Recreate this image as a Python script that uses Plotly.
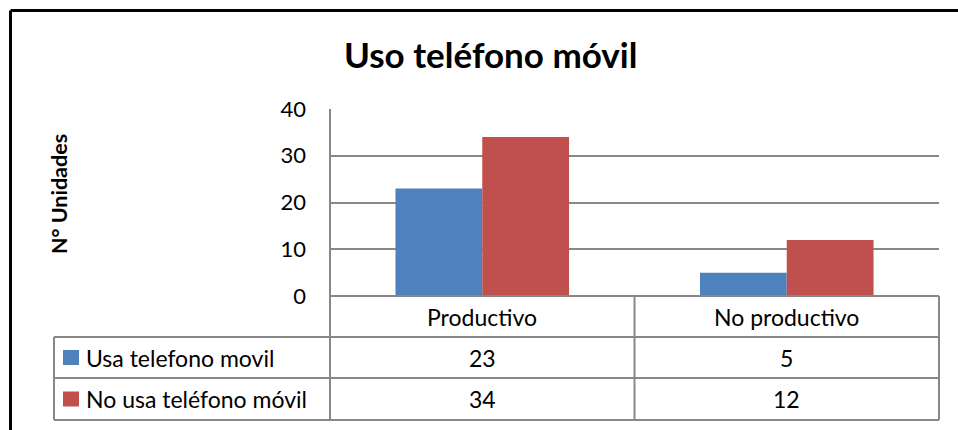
import plotly.graph_objects as go

categories = ["Productivo", "No productivo"]
series_names = ["Usa telefono movil", "No usa teléfono móvil"]
usa_values = [23, 5]
no_usa_values = [34, 12]
y_ticks = [0, 10, 20, 30, 40]
colors = ["#4F81BD", "#C0504D"]

W, H = 958, 430
FONT = "Lato"
GRID = "#888888"

def px(x):
    return x / W

def py(y):
    return 1 - y / H

# pixel layout
X0, X1 = 330, 939     # plot area left/right
YT, YB = 109, 296     # plot area top/bottom
TL = 54               # table left
ROWS = [296, 337, 378, 420]

fig = go.Figure()
for name, vals, col in zip(series_names, [usa_values, no_usa_values], colors):
    fig.add_trace(go.Bar(x=categories, y=vals, name=name, marker=dict(color=col, line=dict(width=0))))

shapes = []
def line(x0, y0, x1, y1, color=GRID, width=2):
    shapes.append(dict(type="line", xref="paper", yref="paper",
                       x0=px(x0), y0=py(y0), x1=px(x1), y1=py(y1),
                       line=dict(color=color, width=width)))

# table lines
line(X0, ROWS[0], X1, ROWS[0])
for r in ROWS[1:]:
    line(TL, r, X1, r)
line(TL, ROWS[1], TL, ROWS[3])
line(X0, YT, X0, ROWS[3])
cat_w = (X1 - X0) / len(categories)
for i in range(1, len(categories) + 1):
    line(X0 + i * cat_w, ROWS[0], X0 + i * cat_w, ROWS[3])

# outer chart border (black, left and top)
line(10.5, 10.5, W, 10.5, color="black", width=3)
line(10.5, 10.5, 10.5, H, color="black", width=3)

annotations = []
def text(x, y, s, size=23, bold=False, xanchor="center", angle=0):
    annotations.append(dict(xref="paper", yref="paper", x=px(x), y=py(y), text=("<b>%s</b>" % s) if bold else s,
                            showarrow=False, xanchor=xanchor, yanchor="middle", textangle=angle,
                            font=dict(family=FONT, size=size, color="black")))

# header row categories
for i, c in enumerate(categories):
    text(X0 + (i + 0.5) * cat_w, (ROWS[0] + ROWS[1]) / 2, c)

# data rows
for r, (name, vals, col) in enumerate(zip(series_names, [usa_values, no_usa_values], colors)):
    yc = (ROWS[r + 1] + ROWS[r + 2]) / 2
    shapes.append(dict(type="rect", xref="paper", yref="paper",
                       x0=px(63), x1=px(79), y0=py(yc - 7.5), y1=py(yc + 7.5),
                       fillcolor=col, line=dict(width=0)))
    text(84, yc, name, xanchor="left")
    for i, v in enumerate(vals):
        text(X0 + (i + 0.5) * cat_w, yc, str(v))

# title and y-axis title
text(490, 54, "Uso teléfono móvil", size=35, bold=True)
text(59, 194, "N° Unidades", size=21.5, bold=True, angle=-90)

fig.update_layout(
    width=W, height=H,
    margin=dict(l=0, r=0, t=0, b=0, autoexpand=False),
    paper_bgcolor="white", plot_bgcolor="white",
    showlegend=False,
    barmode="group", bargap=0.43, bargroupgap=0,
    xaxis=dict(domain=[px(X0), px(X1)], showticklabels=False, showgrid=False,
               zeroline=False, showline=False, ticks="", automargin=False),
    yaxis=dict(domain=[py(YB), py(YT)], range=[0, 40], tickvals=y_ticks,
               showgrid=True, gridcolor=GRID, gridwidth=2, zeroline=False,
               showline=False, ticks="", ticklabelstandoff=23, automargin=False,
               tickfont=dict(family=FONT, size=22, color="black")),
    shapes=shapes, annotations=annotations,
)

fig.write_html("out.html", config={"displayModeBar": False},
               post_script="document.body.style.margin='0';document.body.style.overflow='hidden';")
